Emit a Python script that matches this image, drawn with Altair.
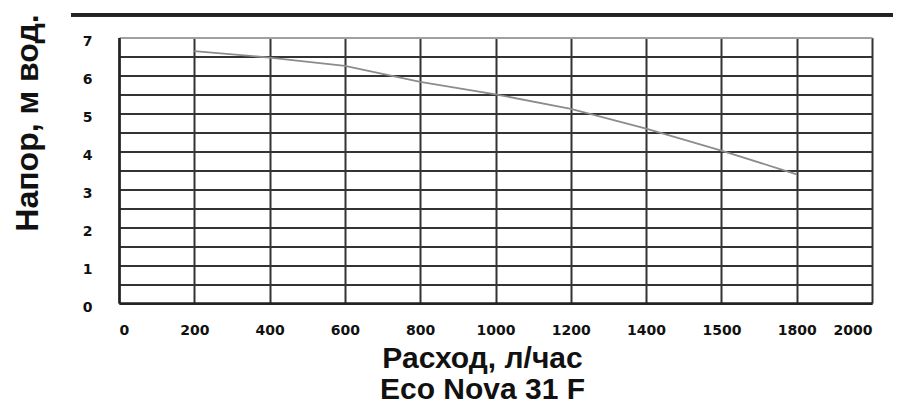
import altair as alt
import pandas as pd

# Curve values
flow = [200, 400, 600, 700, 800, 1000, 1200, 1400, 1600, 1800]
head = [6.64, 6.47, 6.25, 6.04, 5.83, 5.50, 5.12, 4.60, 4.02, 3.39]

x_ticks = [0, 200, 400, 600, 800, 1000, 1200, 1400, 1600, 1800, 2000]
x_labels = ["0", "200", "400", "600", "800", "1000", "1200", "1400", "1500", "1800", "2000"]
y_grid = [0, 0.5, 1, 1.5, 2, 2.5, 3, 3.5, 4, 4.5, 5, 5.5, 6, 6.5, 7]

df = pd.DataFrame({"flow": flow, "head": head})

label_expr = "''"
for v, l in reversed(list(zip(x_ticks, x_labels))):
    label_expr = f"datum.value == {v} ? '{l}' : ({label_expr})"

x_axis = alt.Axis(
    values=x_ticks,
    labelExpr=label_expr,
    grid=True,
    gridColor="#333333",
    gridWidth=2,
    domainColor="#222222",
    domainWidth=2.5,
    ticks=False,
    tickSize=0,
    labelFont="DejaVu Sans",
    labelFontWeight="bold",
    labelFontSize=14,
    labelColor="#111111",
    labelPadding=20,
    title=["Расход, л/час", "Eco Nova 31 F"],
    titleFont="Liberation Sans",
    titleFontWeight="bold",
    titleFontSize=30,
    titleColor="#111111",
    titleX=363,
    titleY=64,
    titleAlign="center",
    titleBaseline="alphabetic",
    titleLineHeight=31.5,
)

y_axis = alt.Axis(
    values=y_grid,
    labelExpr="datum.value % 1 == 0 ? format(datum.value, 'd') : ''",
    grid=True,
    gridColor={"condition": {"test": "datum.value === 7", "value": "#a0a0a0"}, "value": "#333333"},
    gridWidth=2,
    domainColor="#222222",
    domainWidth=2.5,
    ticks=False,
    tickSize=0,
    labelFont="DejaVu Sans",
    labelFontWeight="bold",
    labelFontSize=14,
    labelColor="#111111",
    labelPadding=27,
    labelOffset=4,
    title="Напор, м вод.",
    titleFont="Liberation Sans",
    titleFontWeight="bold",
    titleFontSize=32,
    titleColor="#111111",
    titleAngle=-90,
    titleX=-82,
    titleY=85,
    titleAlign="center",
    titleBaseline="alphabetic",
)

line = alt.Chart(df).mark_line(color="#8c8c8c", strokeWidth=1.8).encode(
    x=alt.X("flow:Q", scale=alt.Scale(domain=[0, 2000], nice=False), axis=x_axis),
    y=alt.Y("head:Q", scale=alt.Scale(domain=[0, 7], nice=False), axis=y_axis),
)

top_rule = alt.Chart(df).mark_rule(color="#222222", strokeWidth=3).encode(
    x=alt.value(-48), x2=alt.value(774), y=alt.value(-22.8)
)

chart = alt.layer(line, top_rule).properties(
    width=753,
    height=265.5,
    autosize=alt.AutoSizeParams(type="none"),
    padding={"left": 111, "top": 29.5, "right": 21, "bottom": 102},
    background="white",
).configure_view(stroke=None)

chart.save("out.html", embed_options={"renderer": "svg", "actions": False})
